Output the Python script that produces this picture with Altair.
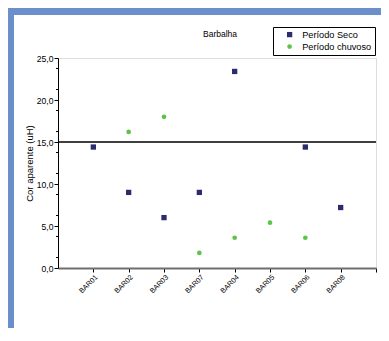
import json
import altair as alt
import pandas as pd

categories = ["BAR01", "BAR02", "BAR03", "BAR07", "BAR04", "BAR05", "BAR06", "BAR08"]
seco = [14.4, 9.0, 6.0, 9.0, 23.4, None, 14.4, 7.2]
chuvoso = [None, 16.2, 18.0, 1.8, 3.6, 5.4, 3.6, None]
series_names = ["Período Seco", "Período chuvoso"]
series_colors = ["#2c2b6d", "#5ec34b"]
series_shapes = ["square", "circle"]
series_sizes = [28, 22]
y_ticks = [0, 2.5, 5, 7.5, 10, 12.5, 15, 17.5, 20, 22.5, 25]
y_minor = [1.25, 3.75, 6.25, 8.75, 11.25, 13.75, 16.25, 18.75, 21.25, 23.75]
limit_value = [15]
chart_title = ["Barbalha"]

rows = []
for i, c in enumerate(categories):
    for name, vals in zip(series_names, [seco, chuvoso]):
        v = vals[i]
        if v is not None:
            rows.append({"pos": i + 1, "cat": c, "serie": name, "valor": v})
df = pd.DataFrame(rows)

W, H = 318, 210
FONT = "Liberation Sans"

x_scale = alt.Scale(domain=[0, len(categories) + 1], nice=False, zero=False)
y_scale = alt.Scale(domain=[0, 25], nice=False)

x_label_expr = "datum.value >= 1 && datum.value <= %d ? %s[datum.value - 1] : ''" % (
    len(categories), json.dumps(categories))
y_label_expr = "replace(format(datum.value, '.1f'), '.', ',')"

points = alt.Chart(df).mark_point(filled=True, opacity=1).encode(
    x=alt.X("pos:Q", scale=x_scale,
            axis=alt.Axis(values=list(range(1, len(categories) + 2)), labelExpr=x_label_expr,
                          labelAngle=-45, title=None, grid=False, domainColor="#6e6e6e",
                          domainWidth=2, tickColor="black", tickSize=4, labelFontSize=7.2,
                          labelFont=FONT, labelColor="black", labelPadding=1)),
    y=alt.Y("valor:Q", scale=y_scale,
            axis=alt.Axis(values=y_ticks, labelExpr=y_label_expr, title="Cor aparente (uH)",
                          grid=False, domainColor="black", tickColor="black", tickSize=4,
                          labelFontSize=8.6, labelFont=FONT, labelColor="black", labelPadding=1,
                          titleFont=FONT, titleFontSize=9.5, titleFontWeight="normal",
                          titleColor="black", titlePadding=2)),
    color=alt.Color("serie:N", scale=alt.Scale(domain=series_names, range=series_colors),
                    legend=alt.Legend(title=None, orient="none", legendX=215, legendY=-31,
                                      strokeColor="black", fillColor="white", padding=3,
                                      labelFont=FONT, labelFontSize=9.2, labelColor="black",
                                      labelExpr="datum.label + '    '",
                                      symbolSize=20, symbolOffset=9, rowPadding=2, labelOffset=8)),
    shape=alt.Shape("serie:N", scale=alt.Scale(domain=series_names, range=series_shapes)),
    size=alt.Size("serie:N", scale=alt.Scale(domain=series_names, range=series_sizes), legend=None),
)

limit_rule = alt.Chart(pd.DataFrame({"limite": limit_value})).mark_rule(
    color="black", strokeWidth=1.5).encode(y=alt.Y("limite:Q", scale=y_scale))

minor = alt.Chart(pd.DataFrame({"m": y_minor})).mark_rule(color="black").encode(
    y=alt.Y("m:Q", scale=y_scale), x=alt.value(-2), x2=alt.value(0))

title_text = alt.Chart(pd.DataFrame({"t": chart_title})).mark_text(
    font=FONT, fontSize=8.5, color="black", baseline="middle", align="center").encode(
    text="t:N", x=alt.value(W / 2 + 3), y=alt.value(-24))

frame_df = pd.DataFrame({"k": [0]})
frame_left = alt.Chart(frame_df).mark_rect(color="#6b8fca").encode(
    x=alt.value(-50), x2=alt.value(-44), y=alt.value(-50), y2=alt.value(H + 70))
frame_top = alt.Chart(frame_df).mark_rect(color="#6b8fca").encode(
    x=alt.value(-50), x2=alt.value(W + 10), y=alt.value(-50), y2=alt.value(-43))

chart = alt.layer(frame_left, frame_top, limit_rule, minor, title_text, points).properties(
    width=W, height=H,
    padding={"left": 50, "top": 50, "right": 5, "bottom": 60},
    autosize=alt.AutoSizeParams(type="none"),
).configure_view(stroke=None).configure(background="white")

chart.save("out.html", embed_options={"renderer": "svg", "actions": False})
